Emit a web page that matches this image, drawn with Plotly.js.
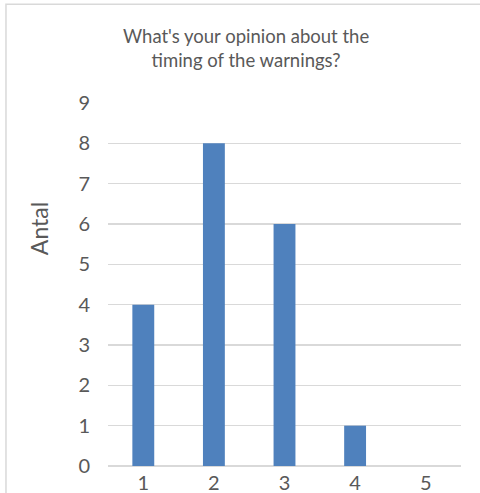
<!DOCTYPE html>
<html>
<head>
<meta charset="utf-8">
<script src="https://cdn.plot.ly/plotly-3.0.1.min.js"></script>
<style>html,body{margin:0;padding:0;background:#fff;}#chart{width:480px;height:493px;}</style>
</head>
<body>
<div id="chart"></div>
<script>
var categories = ['1', '2', '3', '4', '5'];
var counts = [4, 8, 6, 1, 0];
var yTicks = [0, 1, 2, 3, 4, 5, 6, 7, 8, 9];
var chartTitle = "What's your opinion about the<br>timing of the warnings?";
var yTitle = 'Antal';

var font = 'Lato, "Open Sans", sans-serif';
var data = [{
  type: 'bar',
  x: categories,
  y: counts,
  width: 0.31,
  marker: {color: '#4F81BD'},
  hoverinfo: 'x+y'
}];
var layout = {
  width: 480, height: 493,
  margin: {l: 108, r: 19, t: 103, b: 27},
  paper_bgcolor: '#fff', plot_bgcolor: '#fff',
  font: {family: font, color: '#595959', size: 20},
  showlegend: false,
  xaxis: {type: 'category', showgrid: false, zeroline: false, showline: false,
          tickfont: {family: font, size: 20, color: '#595959'}, ticks: '', ticklabelstandoff: 3, fixedrange: true},
  yaxis: {range: [0, 9], tickvals: yTicks, showgrid: true, gridcolor: '#D9D9D9', gridwidth: 1.3,
          zeroline: true, zerolinecolor: '#D9D9D9', zerolinewidth: 1.3, showline: false,
          ticks: '', ticklabelstandoff: 17, tickfont: {family: font, size: 20, color: '#595959'}, fixedrange: true},
  annotations: [
    {text: chartTitle, xref: 'paper', yref: 'paper', x: 0.391, y: 1.152,
     xanchor: 'center', yanchor: 'middle', showarrow: false, align: 'center',
     font: {family: font, size: 18.5, color: '#595959'}},
    {text: yTitle, xref: 'paper', yref: 'paper', x: -0.195, y: 0.653,
     xanchor: 'center', yanchor: 'middle', textangle: -90, showarrow: false,
     font: {family: font, size: 23, color: '#595959'}}],
  shapes: [{type: 'rect', xref: 'paper', yref: 'paper', x0: -0.289, x1: 1.2, y0: -0.2, y1: 1.272,
            line: {color: '#D9D9D9', width: 1.5}, fillcolor: 'rgba(0,0,0,0)'}]
};
Plotly.newPlot('chart', data, layout, {displayModeBar: false, staticPlot: true});
</script>
</body>
</html>
